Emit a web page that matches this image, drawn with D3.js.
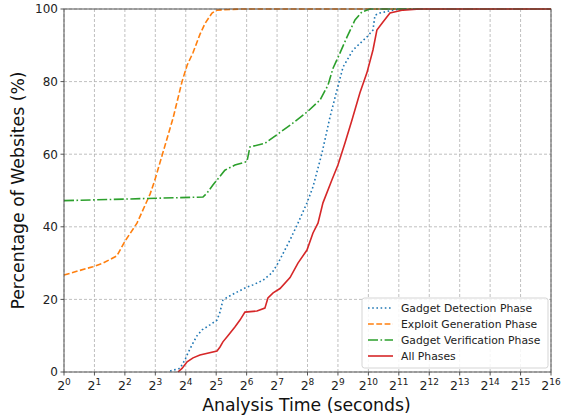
<!DOCTYPE html>
<html>
<head>
<meta charset="utf-8">
<script src="https://cdn.jsdelivr.net/npm/d3@7"></script>
<style>
  body { margin: 0; background: #fff; }
  svg { font-family: "DejaVu Sans", sans-serif; }
</style>
</head>
<body>
<svg id="chart" width="561" height="417"></svg>
<script>
// analysis time in seconds, cumulative percentage of websites
var detectionTime = [11.2, 14, 15.7, 16.8, 18.4, 20.7, 23.2, 27.8, 32.6, 34.9, 37.3, 41.8, 51.3, 64.5, 74, 93, 114, 131, 172, 206, 253, 290, 356, 427, 501, 575, 721, 990, 1137, 1190, 1332, 1795, 2100, 65536];
var detectionPct  = [0.3, 1, 3.3, 5.2, 7.4, 10, 11.6, 13, 14.3, 16.5, 19.8, 20.7, 22, 23.4, 24, 25.3, 27.3, 30, 36.4, 41, 46.6, 51, 60.3, 70.2, 77.7, 84, 88.7, 92.3, 94.2, 98.3, 98.9, 99.7, 100, 100];

var exploitTime = [1, 1.44, 1.93, 2.43, 3.34, 4.0, 5.27, 7.1, 7.94, 12.0, 14.7, 16.5, 18.9, 22.1, 24.8, 29.1, 32.6, 55, 65536];
var exploitPct  = [26.7, 28, 29, 30, 32, 36, 41, 49, 53, 70, 80, 84.5, 88, 93, 96, 98.9, 99.7, 100, 100];

var verifyTime = [1, 23.7, 26, 29.7, 39, 49, 64.5, 69, 97, 137, 184, 253, 340, 408, 458, 537, 630, 755, 885, 1060, 65536];
var verifyPct  = [47.2, 48.2, 49.3, 51.5, 55.6, 57, 58, 62, 63, 66, 68.6, 71.6, 74.9, 79, 83.7, 87.9, 92.3, 97, 99.2, 100, 100];

var allTime = [13.4, 14.7, 16.5, 18.9, 22.1, 32.6, 34.9, 37.3, 41.8, 49, 55, 61.6, 81, 97, 104, 117, 137, 172, 206, 253, 290, 325, 364, 446, 512, 600, 705, 845, 990, 1137, 1243, 1428, 1675, 2255, 3325, 65536];
var allPct  = [0, 1, 2.8, 3.9, 4.7, 5.8, 6.9, 8.3, 10, 12.4, 14.3, 16.5, 16.8, 17.6, 20.4, 21.8, 23, 26, 30, 33.6, 38.3, 41, 46.6, 52.9, 57, 63, 69.4, 76.9, 82.4, 88.7, 94.2, 96.4, 98.9, 99.7, 100, 100];

var xTickExps = d3.range(0, 17);
var yTicks = [0, 20, 40, 60, 80, 100];

var seriesNames = ["Gadget Detection Phase", "Exploit Generation Phase", "Gadget Verification Phase", "All Phases"];
var seriesColors = ["#1f77b4", "#ff7f0e", "#2ca02c", "#d62728"];
var seriesDash = ["1.6,2.6", "5.8,2.5", "10,2.5,1.6,2.5", null];

var svg = d3.select("#chart");
// plot box (window.top is reserved, so no plain "top")
var plotLeft = 64, plotRight = 551, plotTop = 9, plotBottom = 372;

var x = d3.scaleLog().base(2).domain([1, 65536]).range([plotLeft, plotRight]);
var y = d3.scaleLinear().domain([0, 100]).range([plotBottom, plotTop]);

// grid
var grid = svg.append("g").attr("stroke", "#b0b0b0").attr("stroke-width", 0.8).attr("stroke-dasharray", "3,2");
xTickExps.forEach(function(e) {
    grid.append("line").attr("x1", x(Math.pow(2, e))).attr("x2", x(Math.pow(2, e)))
        .attr("y1", plotTop).attr("y2", plotBottom);
});
yTicks.forEach(function(t) {
    grid.append("line").attr("x1", plotLeft).attr("x2", plotRight).attr("y1", y(t)).attr("y2", y(t));
});

// curves
var line = d3.line().x(function(d) { return x(d[0]); }).y(function(d) { return y(d[1]); });
var data = [
    d3.zip(detectionTime, detectionPct),
    d3.zip(exploitTime, exploitPct),
    d3.zip(verifyTime, verifyPct),
    d3.zip(allTime, allPct)
];
data.forEach(function(pts, i) {
    svg.append("path").attr("d", line(pts)).attr("fill", "none")
        .attr("stroke", seriesColors[i]).attr("stroke-width", 1.6)
        .attr("stroke-dasharray", seriesDash[i]);
});

// frame
svg.append("rect").attr("x", plotLeft).attr("y", plotTop)
    .attr("width", plotRight - plotLeft).attr("height", plotBottom - plotTop)
    .attr("fill", "none").attr("stroke", "#444").attr("stroke-width", 0.9);

// y axis ticks
var yAxis = svg.append("g");
yTicks.forEach(function(t) {
    yAxis.append("line").attr("x1", plotLeft - 3.5).attr("x2", plotLeft).attr("y1", y(t)).attr("y2", y(t))
        .attr("stroke", "#444").attr("stroke-width", 0.9);
    yAxis.append("text").attr("x", plotLeft - 6).attr("y", y(t)).attr("dy", "0.36em")
        .attr("text-anchor", "end").attr("font-size", 12).attr("fill", "#222").text(t);
});

// x axis ticks, 2^n labels
var xAxis = svg.append("g");
xTickExps.forEach(function(e) {
    var px = x(Math.pow(2, e));
    xAxis.append("line").attr("x1", px).attr("x2", px).attr("y1", plotBottom).attr("y2", plotBottom + 3.5)
        .attr("stroke", "#444").attr("stroke-width", 0.9);
    var t = xAxis.append("text").attr("x", px).attr("y", plotBottom + 18)
        .attr("text-anchor", "middle").attr("fill", "#222").attr("font-size", 12.5);
    t.append("tspan").text("2");
    t.append("tspan").attr("dy", -5.5).attr("font-size", 9).text(e);
});

// axis titles
svg.append("text").attr("x", (plotLeft + plotRight) / 2 - 1).attr("y", 411).attr("text-anchor", "middle")
    .attr("font-size", 17.3).attr("fill", "#111").text("Analysis Time (seconds)");
svg.append("text").attr("transform", "translate(24," + ((plotTop + plotBottom) / 2) + ") rotate(-90)")
    .attr("text-anchor", "middle").attr("font-size", 17.3).attr("fill", "#111").text("Percentage of Websites (%)");

// legend
var legend = svg.append("g").attr("transform", "translate(362,298)");
legend.append("rect").attr("width", 186).attr("height", 70).attr("rx", 2.5)
    .attr("fill", "#fff").attr("fill-opacity", 0.85).attr("stroke", "#d0d0d0").attr("stroke-width", 0.9);
seriesNames.forEach(function(name, i) {
    var ly = 10 + i * 16;
    legend.append("line").attr("x1", 6).attr("x2", 31).attr("y1", ly).attr("y2", ly)
        .attr("stroke", seriesColors[i]).attr("stroke-width", 1.6).attr("stroke-dasharray", seriesDash[i]);
    legend.append("text").attr("x", 39).attr("y", ly).attr("dy", "0.35em")
        .attr("font-size", 10.8).attr("fill", "#222").text(name);
});
</script>
</body>
</html>
